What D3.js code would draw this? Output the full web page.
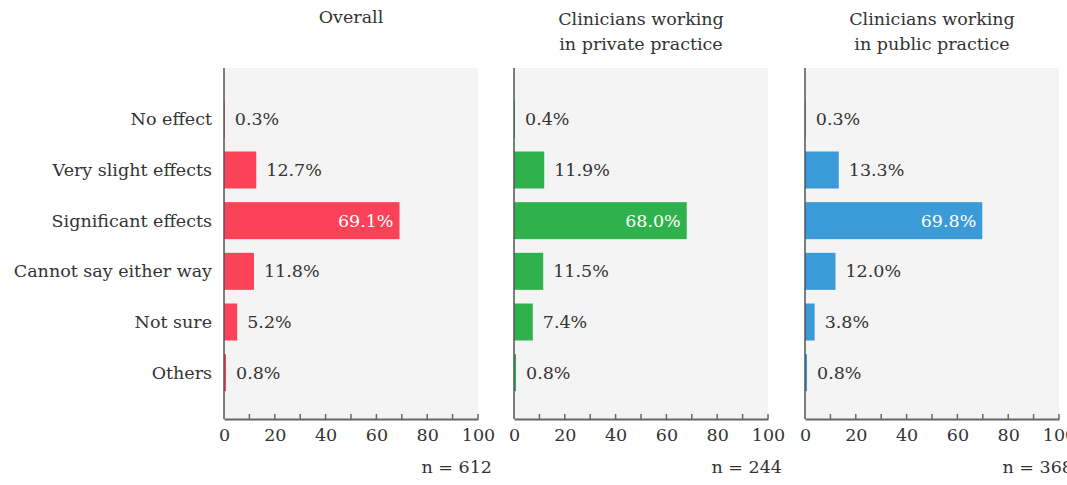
<!DOCTYPE html>
<html>
<head>
<meta charset="utf-8">
<script src="https://cdn.jsdelivr.net/npm/d3@7"></script>
<style>
  body { margin: 0; background: #fff; }
  svg text { font-family: "DejaVu Serif", serif; fill: #333; }
</style>
</head>
<body>
<svg id="chart" width="1067" height="485"></svg>
<script>
// data
const categories = ["No effect", "Very slight effects", "Significant effects", "Cannot say either way", "Not sure", "Others"];
const overall = [0.3, 12.7, 69.1, 11.8, 5.2, 0.8];
const privatePractice = [0.4, 11.9, 68.0, 11.5, 7.4, 0.8];
const publicPractice = [0.3, 13.3, 69.8, 12.0, 3.8, 0.8];
const panelTitles = [["Overall"], ["Clinicians working", "in private practice"], ["Clinicians working", "in public practice"]];
const sampleSizes = [612, 244, 368];
const colors = ["#fb4259", "#2fb24b", "#3b9bd9"];
const xTicks = [0, 20, 40, 60, 80, 100];

const series = [overall, privatePractice, publicPractice];

const svg = d3.select('#chart');
const panelX = [224, 514, 805];
const panelW = 254;
const plotTop = 68, plotBottom = 419;
const fs = 17.5;

const yScale = d3.scaleBand().domain(categories).range([94, 398]).paddingInner(0.27).paddingOuter(0.135);

series.forEach((vals, p) => {
    const g = svg.append('g').attr('transform', `translate(${panelX[p]},0)`);
    const xScale = d3.scaleLinear().domain([0, 100]).range([0, panelW]);

    // background
    g.append('rect')
        .attr('x', 0).attr('y', plotTop)
        .attr('width', panelW).attr('height', plotBottom - plotTop)
        .attr('fill', '#f4f4f4');

    // title
    const title = g.append('text')
        .attr('y', panelTitles[p].length == 1 ? 23 : 25)
        .attr('text-anchor', 'middle')
        .attr('font-size', fs);
    panelTitles[p].forEach((line, i) => {
        title.append('tspan').attr('x', panelW / 2).attr('dy', i == 0 ? 0 : 25).text(line);
    });

    // bars
    const data = categories.map((c, i) => ({ cat: c, v: vals[i] }));
    g.selectAll('.bar')
        .data(data)
        .enter()
        .append('rect')
        .attr('class', 'bar')
        .attr('x', 0)
        .attr('y', d => yScale(d.cat))
        .attr('width', d => xScale(d.v))
        .attr('height', yScale.bandwidth())
        .attr('fill', colors[p]);

    // value labels
    g.selectAll('.val')
        .data(data)
        .enter()
        .append('text')
        .attr('class', 'val')
        .attr('x', d => d.v > 50 ? xScale(d.v) - 6 : xScale(d.v) + 10)
        .attr('y', d => yScale(d.cat) + yScale.bandwidth() / 2)
        .attr('dy', '0.35em')
        .attr('text-anchor', d => d.v > 50 ? 'end' : 'start')
        .attr('font-size', fs)
        .style('fill', d => d.v > 50 ? '#fff' : '#333')
        .text(d => d.v.toFixed(1) + '%');

    // y axis line
    g.append('line')
        .attr('x1', 0).attr('x2', 0)
        .attr('y1', plotTop).attr('y2', plotBottom)
        .attr('stroke', '#555').attr('stroke-width', 1.5);

    // x axis
    const axis = d3.axisBottom(xScale).tickValues(xTicks).tickSize(0).tickPadding(10);
    const ax = g.append('g').attr('transform', `translate(0,${plotBottom})`).call(axis);
    ax.select('.domain').attr('stroke', '#666').attr('stroke-width', 2);
    ax.selectAll('text').attr('font-size', fs).attr('font-family', '"DejaVu Serif", serif').style('fill', '#333');
    g.selectAll('.minor')
        .data(d3.range(10, 101, 10))
        .enter()
        .append('line')
        .attr('x1', d => xScale(d)).attr('x2', d => xScale(d))
        .attr('y1', plotBottom - 5).attr('y2', plotBottom)
        .attr('stroke', '#666').attr('stroke-width', 1.5);

    // sample size
    g.append('text')
        .attr('x', panelW + 14)
        .attr('y', 473)
        .attr('text-anchor', 'end')
        .attr('font-size', fs)
        .text('n = ' + sampleSizes[p]);

    // category labels only on first panel
    if (p == 0) {
        g.selectAll('.cat')
            .data(categories)
            .enter()
            .append('text')
            .attr('class', 'cat')
            .attr('x', -12)
            .attr('y', d => yScale(d) + yScale.bandwidth() / 2)
            .attr('dy', '0.35em')
            .attr('text-anchor', 'end')
            .attr('font-size', fs)
            .text(d => d);
    }
});
</script>
</body>
</html>
